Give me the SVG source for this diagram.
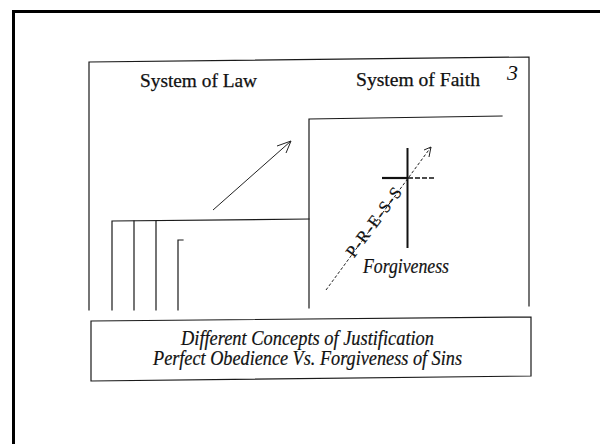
<svg xmlns="http://www.w3.org/2000/svg" width="600" height="444" viewBox="0 0 600 444">
<style>
.ln{fill:none;stroke:#1a1a1a;stroke-width:1.2;stroke-linecap:square}
.thin{fill:none;stroke:#222;stroke-width:1}
.dash{fill:none;stroke:#222;stroke-width:1;stroke-dasharray:3 2}
.t{font-family:'Liberation Serif','DejaVu Serif',serif;fill:#111;stroke:#111;stroke-width:0.25}
.i{font-family:'Liberation Serif','DejaVu Serif',serif;font-style:italic;fill:#111;stroke:#111;stroke-width:0.2}
</style>
<rect width="600" height="444" fill="#fff"/>
<path d="M13.5,444 V11.5 H600" fill="none" stroke="#000" stroke-width="3"/>
<g id="frame">
<path class="ln" d="M89,310 V62 L529,57 V306"/>
<text class="i" font-family="Liberation Serif, DejaVu Serif, serif" x="507" y="80" font-size="22" style="stroke-width:0">3</text>
</g>
<g id="system-of-law">
<text class="t" font-family="Liberation Serif, DejaVu Serif, serif" x="140" y="87" font-size="18" textLength="117" lengthAdjust="spacingAndGlyphs">System of Law</text>
<path class="ln" d="M112,310 V221 L309,219"/>
<path class="ln" d="M134,221 V310 M156,221 V310"/>
<path class="ln" d="M183,240 H178 V310"/>
</g>
<g id="system-of-faith">
<text class="t" font-family="Liberation Serif, DejaVu Serif, serif" x="356" y="86" font-size="18" textLength="124" lengthAdjust="spacingAndGlyphs">System of Faith</text>
<path class="ln" d="M309,308 V119 L502,116"/>
</g>
<g id="cross">
<path d="M407.5,148 V248" fill="none" stroke="#111" stroke-width="2"/>
<path d="M382,178 H408" fill="none" stroke="#111" stroke-width="2.2"/>
<path d="M408,178 H436" fill="none" stroke="#111" stroke-width="1.6" stroke-dasharray="5 2"/>
<text class="i" font-family="Liberation Serif, DejaVu Serif, serif" x="363" y="273" font-size="20" textLength="86" lengthAdjust="spacingAndGlyphs">Forgiveness</text>
</g>
<g id="connectors">
<path class="thin" d="M213,210 L291,141"/>
<path class="thin" d="M277,146 L291,141 L286,153"/>
<path class="dash" d="M326,290 L431,147"/>
<path class="thin" d="M424,150 L431,147 L429,157"/>
<text class="t" font-family="Liberation Serif, DejaVu Serif, serif" font-size="17" text-anchor="middle" transform="translate(375,223) rotate(-53.7)" x="0" y="4" textLength="82" lengthAdjust="spacing">P-R-E-S-S</text>
</g>
<g id="caption">
<path class="ln" d="M91,321 L531,317 V376 L91,381 Z"/>
<text class="i" font-family="Liberation Serif, DejaVu Serif, serif" x="181" y="345" font-size="20" textLength="253" lengthAdjust="spacingAndGlyphs">Different Concepts of Justification</text>
<text class="i" font-family="Liberation Serif, DejaVu Serif, serif" x="153" y="365" font-size="20" textLength="309" lengthAdjust="spacingAndGlyphs">Perfect Obedience Vs. Forgiveness of Sins</text>
</g>
</svg>
